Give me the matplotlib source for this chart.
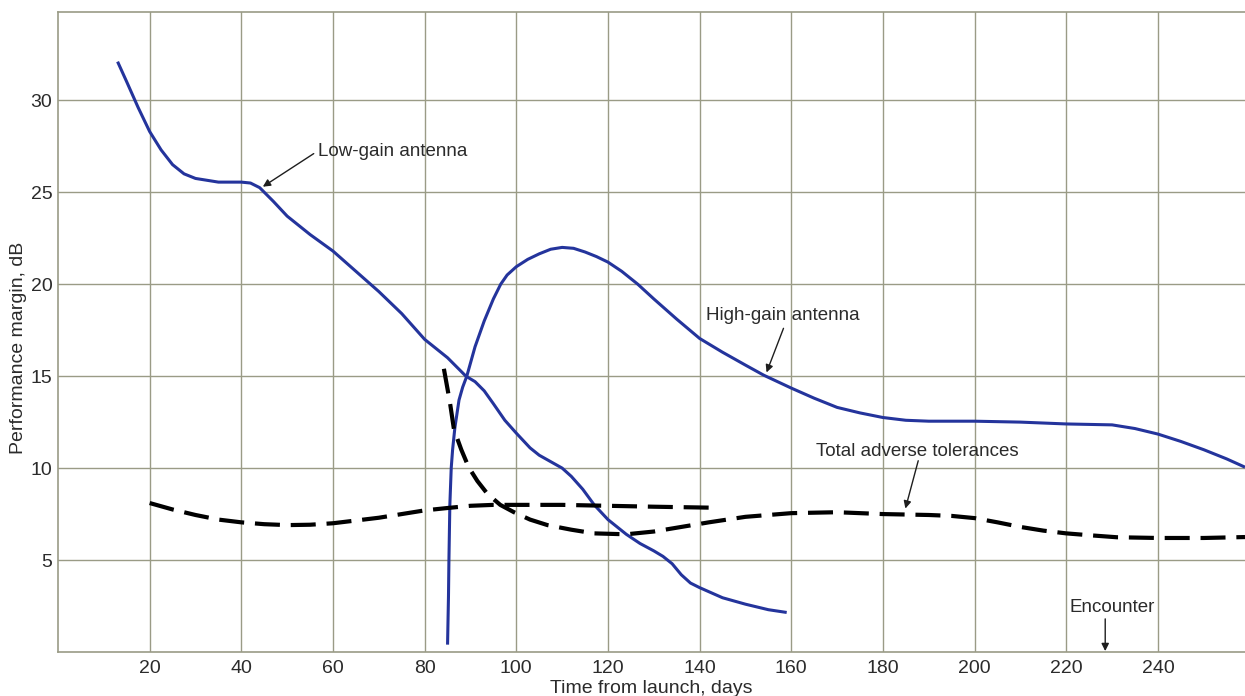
import matplotlib
matplotlib.use("Agg")
import matplotlib.pyplot as plt

# ---- data ----
low_x = [13, 15, 17.5, 20, 22.5, 25, 27.5, 30, 35, 40, 42, 44, 47, 50, 55, 60,
         65, 70, 75, 80, 85, 89, 91, 93, 95, 97.5, 100, 103, 105, 107.5, 110,
         112, 114.5, 117, 120, 124, 127, 130, 132, 134, 136, 138, 140, 145,
         150, 155, 159]
low_y = [32.1, 31.0, 29.6, 28.3, 27.3, 26.5, 26.0, 25.75, 25.55, 25.55, 25.5,
         25.25, 24.5, 23.7, 22.7, 21.8, 20.7, 19.6, 18.4, 17.0, 16.0, 15.0,
         14.7, 14.2, 13.5, 12.6, 11.9, 11.1, 10.7, 10.35, 10.0, 9.55, 8.85, 8.0,
         7.2, 6.4, 5.9, 5.5, 5.2, 4.8, 4.2, 3.75, 3.5, 2.95, 2.6, 2.3, 2.15]

high_x = [85.0, 85.2, 85.3, 85.5, 85.8, 86.1, 86.6, 87.5, 88.3, 89.2, 91, 93, 95,
          96.6, 98, 100, 102.5, 105, 107.5, 110, 112.5, 115, 117.5, 120, 123,
          126.5, 130, 135, 140, 145, 150, 154, 160, 165, 170, 175, 180, 185, 190,
          200, 210, 220, 230, 235, 240, 245, 250, 255, 259]
high_y = [0.4, 3, 5, 8, 10, 11, 12.2, 13.7, 14.4, 15.0, 16.6, 18.0, 19.2, 20.0,
          20.5, 20.95, 21.35, 21.65, 21.9, 22.0, 21.95, 21.75, 21.5, 21.2, 20.7,
          20.0, 19.2, 18.1, 17.05, 16.3, 15.6, 15.05, 14.35, 13.8, 13.3, 13.0,
          12.75, 12.6, 12.55, 12.55, 12.5, 12.4, 12.35, 12.15, 11.85, 11.45,
          11.0, 10.5, 10.05]

tol1_x = [20, 25, 30, 35, 40, 45, 50, 55, 60, 65, 70, 75, 80, 85, 90, 95, 100,
          110, 120, 130, 142]
tol1_y = [8.1, 7.75, 7.45, 7.2, 7.05, 6.95, 6.9, 6.92, 7.0, 7.15, 7.3, 7.5, 7.7,
          7.83, 7.95, 8.0, 8.0, 8.0, 7.95, 7.9, 7.85]

tol2_x = [84.2, 85.5, 86.4, 88, 89.6, 91.5, 93.7, 96.5, 99.5, 103, 106.8, 112,
          117, 124, 130, 136, 142, 150, 160, 170, 180, 190, 195, 200, 205, 210,
          215, 220, 225, 231, 240, 250, 259]
tol2_y = [15.4, 13.6, 12.1, 11.0, 10.05, 9.3, 8.6, 8.0, 7.6, 7.2, 6.9, 6.65,
          6.45, 6.4, 6.55, 6.8, 7.05, 7.35, 7.55, 7.6, 7.5, 7.45, 7.4, 7.28,
          7.05, 6.8, 6.6, 6.45, 6.35, 6.24, 6.2, 6.2, 6.25]

x_ticks = [20, 40, 60, 80, 100, 120, 140, 160, 180, 200, 220, 240]
y_ticks = [5, 10, 15, 20, 25, 30]

# ---- style ----
plt.rcParams['font.family'] = ['Liberation Sans', 'DejaVu Sans']
TXT = '#2b2b2b'
GRID = '#9a9b86'
BLUE = '#24349c'
FS = 13.5

fig = plt.figure(figsize=(12.45, 6.96), dpi=100)
ax = fig.add_axes([58/1245, 44/696, (1245-58)/1245, (652-12)/696])
ax.set_xlim(0, 259)
ax.set_ylim(0, 34.8)

ax.set_xticks(x_ticks)
ax.set_yticks(y_ticks)
ax.tick_params(length=0, labelsize=14, labelcolor=TXT)
ax.tick_params(axis='x', pad=6)
ax.tick_params(axis='y', pad=4)
ax.grid(True, color=GRID, lw=1.0)
ax.set_axisbelow(True)
for s in ['left', 'bottom', 'top']:
    ax.spines[s].set_color(GRID)
    ax.spines[s].set_linewidth(1.2)
ax.spines['right'].set_visible(False)

ax.plot(low_x, low_y, color=BLUE, lw=2.2, solid_capstyle='butt',
        solid_joinstyle='round', zorder=3)
ax.plot(high_x, high_y, color=BLUE, lw=2.2, solid_capstyle='butt',
        solid_joinstyle='round', zorder=3)
ax.plot(tol1_x, tol1_y, color='black', lw=3.0, dashes=(6, 2.6), zorder=4)
ax.plot(tol2_x, tol2_y, color='black', lw=3.0, dashes=(6, 2.6), zorder=4)

ax.set_xlabel('Time from launch, days', fontsize=14, color=TXT)
ax.xaxis.set_label_coords(0.5, -0.043)
ax.set_ylabel('Performance margin, dB', fontsize=14, color=TXT)
ax.yaxis.set_label_coords(-0.026, 0.475)

arrow = dict(arrowstyle='-|>', color='#1e1e1e', lw=1.0, mutation_scale=11,
             shrinkA=0, shrinkB=0)

ax.text(56.7, 27.2, 'Low-gain antenna', fontsize=FS, color=TXT, va='center', ha='left')
ax.annotate('', xy=(44.7, 25.3), xytext=(55.8, 27.1), arrowprops=arrow)

ax.text(141.5, 18.3, 'High-gain antenna', fontsize=FS, color=TXT, va='center', ha='left')
ax.annotate('', xy=(154.6, 15.2), xytext=(158.3, 17.6), arrowprops=arrow)

ax.text(165.3, 10.9, 'Total adverse tolerances', fontsize=FS, color=TXT, va='center', ha='left')
ax.annotate('', xy=(184.9, 7.8), xytext=(187.7, 10.4), arrowprops=arrow)

ax.text(220.7, 2.4, 'Encounter', fontsize=FS, color=TXT, va='center', ha='left')
ax.annotate('', xy=(228.5, 0.05), xytext=(228.5, 1.8), arrowprops=arrow)

fig.savefig('out.png', dpi=100)
